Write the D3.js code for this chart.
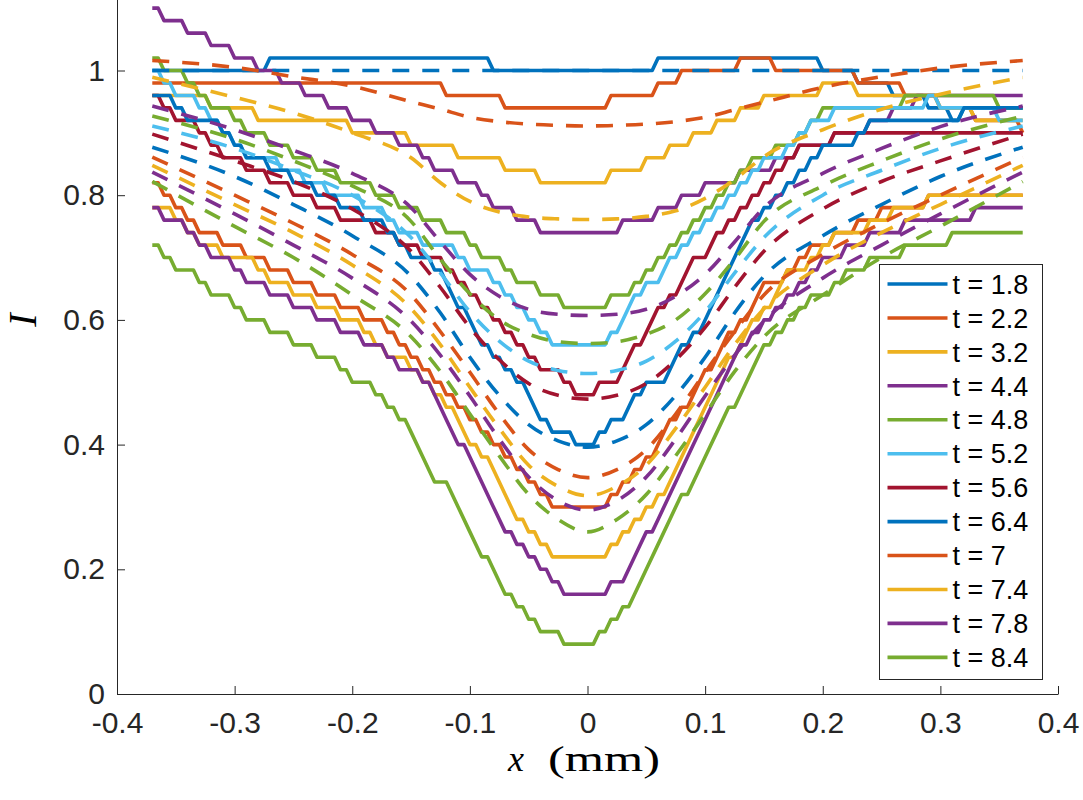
<!DOCTYPE html>
<html>
<head>
<meta charset="utf-8">
<script src="https://cdn.jsdelivr.net/npm/d3@7"></script>
<style>
  html, body { margin: 0; padding: 0; background: #fff; }
  svg { display: block; }
</style>
</head>
<body>
<svg id="chart" width="1083" height="800"></svg>
<script>
// measured profiles: x sample positions (mm)
const xMeasured = [
  -0.37, -0.36, -0.35, -0.34, -0.33, -0.32, -0.31, -0.30, -0.29, -0.28,
  -0.27, -0.26, -0.25, -0.24, -0.23, -0.22, -0.21, -0.20, -0.19, -0.18,
  -0.17, -0.16, -0.15, -0.14, -0.13, -0.12, -0.11, -0.10, -0.09, -0.08,
  -0.07, -0.06, -0.05, -0.04, -0.03, -0.02, -0.01, 0.00, 0.01, 0.02,
  0.03, 0.04, 0.05, 0.06, 0.07, 0.08, 0.09, 0.10, 0.11, 0.12,
  0.13, 0.14, 0.15, 0.16, 0.17, 0.18, 0.19, 0.20, 0.21, 0.22,
  0.23, 0.24, 0.25, 0.26, 0.27, 0.28, 0.29, 0.30, 0.31, 0.32,
  0.33, 0.34, 0.35, 0.36, 0.37
];

// measured intensity, one array per time (values come in steps of 0.02)
const meas18 = [
  1.00, 1.00, 1.00, 1.00, 1.00, 1.00, 1.00, 1.00, 1.00, 1.00,
  1.02, 1.02, 1.02, 1.02, 1.02, 1.02, 1.02, 1.02, 1.02, 1.02,
  1.02, 1.02, 1.02, 1.02, 1.02, 1.02, 1.02, 1.02, 1.02, 1.00,
  1.00, 1.00, 1.00, 1.00, 1.00, 1.00, 1.00, 1.00, 1.00, 1.00,
  1.00, 1.00, 1.00, 1.02, 1.02, 1.02, 1.02, 1.02, 1.02, 1.02,
  1.02, 1.02, 1.02, 1.02, 1.02, 1.02, 1.02, 1.00, 1.00, 1.00,
  0.98, 0.98, 0.98, 0.96, 0.96, 0.96, 0.94, 0.94, 0.92, 0.94,
  0.94, 0.94, 0.94, 0.94, 0.94
];
const meas22 = [
  0.98, 0.98, 0.98, 0.98, 0.98, 0.98, 0.98, 0.98, 0.98, 0.98,
  0.98, 0.98, 0.98, 0.98, 0.98, 0.98, 0.98, 0.98, 0.98, 0.98,
  0.98, 0.98, 0.98, 0.98, 0.98, 0.96, 0.96, 0.96, 0.96, 0.96,
  0.94, 0.94, 0.94, 0.94, 0.94, 0.94, 0.94, 0.94, 0.94, 0.96,
  0.96, 0.96, 0.96, 0.98, 0.98, 1.00, 1.00, 1.00, 1.00, 1.00,
  1.02, 1.02, 1.02, 1.00, 1.00, 1.00, 1.00, 1.00, 1.00, 1.00,
  0.98, 0.98, 0.98, 0.98, 0.96, 0.96, 0.96, 0.94, 0.94, 0.94,
  0.92, 0.92, 0.92, 0.92, 0.90
];
const meas32 = [
  0.96, 0.96, 0.96, 0.96, 0.96, 0.94, 0.94, 0.94, 0.94, 0.92,
  0.92, 0.92, 0.92, 0.92, 0.92, 0.92, 0.92, 0.90, 0.90, 0.90,
  0.90, 0.90, 0.88, 0.88, 0.88, 0.88, 0.86, 0.86, 0.86, 0.86,
  0.84, 0.84, 0.84, 0.82, 0.82, 0.82, 0.82, 0.82, 0.82, 0.84,
  0.84, 0.84, 0.86, 0.86, 0.88, 0.88, 0.90, 0.90, 0.92, 0.92,
  0.94, 0.94, 0.96, 0.96, 0.96, 0.96, 0.96, 0.98, 0.98, 0.98,
  0.96, 0.96, 0.96, 0.96, 0.96, 0.96, 0.96, 0.94, 0.94, 0.94,
  0.92, 0.92, 0.92, 0.92, 0.92
];
const meas44 = [
  1.10, 1.08, 1.08, 1.06, 1.06, 1.04, 1.04, 1.02, 1.02, 1.00,
  1.00, 0.98, 0.98, 0.96, 0.96, 0.94, 0.94, 0.92, 0.92, 0.90,
  0.90, 0.88, 0.88, 0.86, 0.84, 0.84, 0.82, 0.82, 0.80, 0.78,
  0.78, 0.76, 0.76, 0.74, 0.74, 0.74, 0.74, 0.74, 0.74, 0.74,
  0.76, 0.76, 0.76, 0.78, 0.78, 0.80, 0.80, 0.82, 0.82, 0.82,
  0.84, 0.84, 0.84, 0.86, 0.86, 0.88, 0.88, 0.88, 0.90, 0.90,
  0.90, 0.92, 0.92, 0.94, 0.94, 0.96, 0.96, 0.96, 0.96, 0.96,
  0.96, 0.96, 0.96, 0.96, 0.96
];
const meas48 = [
  1.02, 1.00, 1.00, 0.98, 0.96, 0.94, 0.94, 0.92, 0.90, 0.90,
  0.88, 0.88, 0.86, 0.86, 0.84, 0.84, 0.82, 0.82, 0.82, 0.80,
  0.80, 0.78, 0.78, 0.76, 0.76, 0.74, 0.74, 0.72, 0.70, 0.70,
  0.68, 0.66, 0.66, 0.64, 0.64, 0.62, 0.62, 0.62, 0.62, 0.64,
  0.64, 0.66, 0.68, 0.70, 0.72, 0.74, 0.76, 0.78, 0.80, 0.82,
  0.84, 0.86, 0.86, 0.88, 0.88, 0.90, 0.92, 0.94, 0.94, 0.94,
  0.94, 0.94, 0.94, 0.94, 0.96, 0.96, 0.96, 0.96, 0.96, 0.96,
  0.96, 0.96, 0.94, 0.94, 0.94
];
const meas52 = [
  1.00, 0.98, 0.96, 0.96, 0.94, 0.92, 0.90, 0.88, 0.86, 0.86,
  0.86, 0.84, 0.84, 0.82, 0.82, 0.80, 0.80, 0.80, 0.78, 0.78,
  0.76, 0.74, 0.74, 0.72, 0.72, 0.72, 0.70, 0.68, 0.68, 0.66,
  0.64, 0.62, 0.60, 0.58, 0.56, 0.56, 0.56, 0.56, 0.56, 0.58,
  0.60, 0.64, 0.66, 0.66, 0.70, 0.72, 0.74, 0.76, 0.78, 0.80,
  0.82, 0.84, 0.86, 0.86, 0.88, 0.90, 0.92, 0.92, 0.94, 0.94,
  0.94, 0.94, 0.94, 0.94, 0.94, 0.94, 0.96, 0.94, 0.94, 0.94,
  0.94, 0.94, 0.92, 0.92, 0.92
];
const meas56 = [
  0.96, 0.94, 0.92, 0.92, 0.90, 0.88, 0.86, 0.86, 0.84, 0.84,
  0.82, 0.82, 0.80, 0.80, 0.78, 0.78, 0.76, 0.76, 0.76, 0.74,
  0.74, 0.72, 0.72, 0.70, 0.70, 0.68, 0.66, 0.64, 0.62, 0.60,
  0.58, 0.56, 0.54, 0.52, 0.52, 0.50, 0.48, 0.48, 0.50, 0.50,
  0.52, 0.56, 0.58, 0.62, 0.64, 0.66, 0.70, 0.70, 0.74, 0.76,
  0.78, 0.80, 0.82, 0.84, 0.86, 0.88, 0.88, 0.88, 0.90, 0.90,
  0.90, 0.90, 0.90, 0.90, 0.90, 0.90, 0.90, 0.90, 0.90, 0.90,
  0.90, 0.90, 0.90, 0.90, 0.90
];
const meas64 = [
  0.96, 0.96, 0.94, 0.92, 0.92, 0.92, 0.90, 0.88, 0.86, 0.86,
  0.84, 0.84, 0.82, 0.82, 0.80, 0.80, 0.78, 0.78, 0.76, 0.76,
  0.74, 0.72, 0.70, 0.70, 0.68, 0.66, 0.62, 0.60, 0.56, 0.54,
  0.52, 0.50, 0.48, 0.44, 0.42, 0.42, 0.40, 0.40, 0.42, 0.44,
  0.44, 0.48, 0.50, 0.50, 0.52, 0.56, 0.58, 0.60, 0.64, 0.68,
  0.72, 0.76, 0.78, 0.80, 0.82, 0.84, 0.86, 0.88, 0.88, 0.88,
  0.90, 0.92, 0.92, 0.92, 0.92, 0.92, 0.92, 0.92, 0.92, 0.94,
  0.94, 0.94, 0.94, 0.94, 0.94
];
const meas70 = [
  0.82, 0.80, 0.78, 0.76, 0.74, 0.74, 0.72, 0.72, 0.70, 0.70,
  0.68, 0.68, 0.66, 0.66, 0.64, 0.64, 0.62, 0.62, 0.60, 0.60,
  0.58, 0.56, 0.54, 0.52, 0.50, 0.48, 0.46, 0.44, 0.42, 0.40,
  0.38, 0.36, 0.34, 0.32, 0.30, 0.30, 0.30, 0.30, 0.30, 0.32,
  0.34, 0.36, 0.38, 0.40, 0.44, 0.46, 0.48, 0.52, 0.54, 0.58,
  0.60, 0.62, 0.66, 0.66, 0.68, 0.70, 0.72, 0.72, 0.74, 0.74,
  0.76, 0.76, 0.78, 0.78, 0.78, 0.78, 0.80, 0.80, 0.80, 0.80,
  0.80, 0.80, 0.80, 0.80, 0.80
];
const meas74 = [
  0.78, 0.78, 0.76, 0.74, 0.72, 0.72, 0.70, 0.70, 0.70, 0.68,
  0.66, 0.66, 0.64, 0.64, 0.62, 0.62, 0.60, 0.60, 0.58, 0.56,
  0.54, 0.54, 0.52, 0.50, 0.48, 0.46, 0.44, 0.40, 0.38, 0.36,
  0.32, 0.28, 0.26, 0.24, 0.22, 0.22, 0.22, 0.22, 0.22, 0.24,
  0.26, 0.28, 0.30, 0.32, 0.34, 0.38, 0.42, 0.46, 0.50, 0.54,
  0.56, 0.60, 0.62, 0.64, 0.68, 0.68, 0.70, 0.72, 0.74, 0.74,
  0.74, 0.76, 0.76, 0.78, 0.78, 0.78, 0.80, 0.80, 0.80, 0.80,
  0.80, 0.80, 0.80, 0.80, 0.80
];
const meas78 = [
  0.78, 0.76, 0.76, 0.74, 0.72, 0.70, 0.70, 0.68, 0.66, 0.66,
  0.64, 0.64, 0.62, 0.62, 0.60, 0.60, 0.58, 0.58, 0.56, 0.56,
  0.54, 0.52, 0.52, 0.50, 0.48, 0.44, 0.40, 0.38, 0.34, 0.30,
  0.26, 0.24, 0.22, 0.20, 0.18, 0.16, 0.16, 0.16, 0.16, 0.18,
  0.18, 0.22, 0.26, 0.28, 0.32, 0.36, 0.40, 0.44, 0.48, 0.52,
  0.56, 0.58, 0.60, 0.62, 0.64, 0.66, 0.68, 0.70, 0.70, 0.72,
  0.72, 0.74, 0.74, 0.74, 0.76, 0.76, 0.76, 0.76, 0.76, 0.76,
  0.78, 0.78, 0.78, 0.78, 0.78
];
const meas84 = [
  0.72, 0.70, 0.68, 0.68, 0.66, 0.64, 0.64, 0.62, 0.60, 0.60,
  0.58, 0.58, 0.56, 0.56, 0.54, 0.54, 0.52, 0.50, 0.50, 0.48,
  0.46, 0.44, 0.42, 0.38, 0.34, 0.34, 0.30, 0.26, 0.22, 0.20,
  0.16, 0.14, 0.12, 0.10, 0.10, 0.08, 0.08, 0.08, 0.10, 0.12,
  0.14, 0.16, 0.20, 0.24, 0.28, 0.32, 0.34, 0.38, 0.42, 0.46,
  0.48, 0.52, 0.56, 0.58, 0.60, 0.62, 0.64, 0.64, 0.66, 0.68,
  0.68, 0.70, 0.70, 0.70, 0.72, 0.72, 0.72, 0.72, 0.74, 0.74,
  0.74, 0.74, 0.74, 0.74, 0.74
];

// model curves (dashed): x positions (mm) and intensity
const xModel = [-0.37, -0.30, -0.25, -0.20, -0.15, -0.125, -0.10, -0.075, -0.05, -0.025, 0,
                0.025, 0.05, 0.075, 0.10, 0.125, 0.15, 0.20, 0.25, 0.30, 0.37];
const model18 = [1.000, 1.000, 1.000, 1.000, 1.000, 1.000, 1.000, 1.000, 1.000, 1.000, 1.000,
                 1.000, 1.000, 1.000, 1.000, 1.000, 1.000, 1.000, 1.000, 1.000, 1.000];
const model22 = [1.016, 1.005, 0.990, 0.975, 0.950, 0.938, 0.925, 0.918, 0.914, 0.912, 0.911,
                 0.912, 0.914, 0.918, 0.925, 0.937, 0.949, 0.973, 0.990, 1.004, 1.016];
const model32 = [0.989, 0.957, 0.932, 0.900, 0.860, 0.820, 0.790, 0.773, 0.765, 0.762, 0.761,
                 0.762, 0.766, 0.775, 0.795, 0.825, 0.862, 0.905, 0.938, 0.962, 0.989];
const model44 = [0.943, 0.905, 0.872, 0.835, 0.780, 0.725, 0.673, 0.638, 0.617, 0.609, 0.607,
                 0.609, 0.617, 0.638, 0.673, 0.725, 0.780, 0.835, 0.875, 0.910, 0.943];
const model48 = [0.927, 0.890, 0.855, 0.815, 0.758, 0.697, 0.642, 0.600, 0.577, 0.565, 0.562,
                 0.565, 0.577, 0.600, 0.642, 0.697, 0.758, 0.815, 0.855, 0.890, 0.927];
const model52 = [0.911, 0.875, 0.840, 0.800, 0.732, 0.675, 0.613, 0.566, 0.534, 0.519, 0.514,
                 0.519, 0.534, 0.566, 0.613, 0.675, 0.732, 0.800, 0.840, 0.875, 0.911];
const model56 = [0.898, 0.855, 0.822, 0.778, 0.710, 0.652, 0.588, 0.536, 0.498, 0.479, 0.473,
                 0.479, 0.498, 0.536, 0.588, 0.652, 0.710, 0.778, 0.822, 0.855, 0.898];
const model64 = [0.877, 0.830, 0.785, 0.735, 0.670, 0.611, 0.540, 0.479, 0.432, 0.406, 0.396,
                 0.406, 0.432, 0.479, 0.540, 0.611, 0.670, 0.735, 0.785, 0.830, 0.877];
const model70 = [0.861, 0.800, 0.755, 0.705, 0.640, 0.581, 0.516, 0.449, 0.392, 0.360, 0.347,
                 0.360, 0.392, 0.449, 0.516, 0.581, 0.640, 0.705, 0.755, 0.800, 0.861];
const model74 = [0.848, 0.785, 0.740, 0.688, 0.618, 0.560, 0.492, 0.426, 0.367, 0.333, 0.318,
                 0.333, 0.367, 0.426, 0.492, 0.560, 0.618, 0.688, 0.740, 0.785, 0.848];
const model78 = [0.837, 0.770, 0.720, 0.667, 0.598, 0.543, 0.478, 0.409, 0.348, 0.310, 0.295,
                 0.310, 0.348, 0.409, 0.478, 0.543, 0.598, 0.667, 0.720, 0.770, 0.837];
const model84 = [0.822, 0.750, 0.700, 0.640, 0.573, 0.517, 0.449, 0.382, 0.320, 0.280, 0.260,
                 0.280, 0.320, 0.382, 0.449, 0.517, 0.573, 0.640, 0.700, 0.750, 0.822];

const times = ["1.8", "2.2", "3.2", "4.4", "4.8", "5.2", "5.6", "6.4", "7", "7.4", "7.8", "8.4"];
const measured = [meas18, meas22, meas32, meas44, meas48, meas52, meas56, meas64, meas70, meas74, meas78, meas84];
const model = [model18, model22, model32, model44, model48, model52, model56, model64, model70, model74, model78, model84];

const xTicks = [-0.4, -0.3, -0.2, -0.1, 0, 0.1, 0.2, 0.3, 0.4];
const xTickLabels = ["-0.4", "-0.3", "-0.2", "-0.1", "0", "0.1", "0.2", "0.3", "0.4"];
const yTicks = [0, 0.2, 0.4, 0.6, 0.8, 1];
const yTickLabels = ["0", "0.2", "0.4", "0.6", "0.8", "1"];

// MATLAB default colour order
const palette = ["#0072BD", "#D95319", "#EDB120", "#7E2F8E", "#77AC30", "#4DBEEE", "#A2142F"];
const axisColor = "#262626";
const sansFont = "'Liberation Sans', Arial, Helvetica, sans-serif";
const serifFont = "'Liberation Serif', 'DejaVu Serif', serif";

const svg = d3.select("#chart");
svg.append("rect").attr("width", 1083).attr("height", 800).attr("fill", "#fff");

const x = d3.scaleLinear().domain([-0.4, 0.4]).range([117, 1058]);
const y = d3.scaleLinear().domain([0, 1.2]).range([694, -54.2]);

// one intensity step of the camera data, in pixels
const stepPx = y(0) - y(0.02);

// quantised data: a one-step change is drawn as a short flat then a riser,
// bigger changes as a straight segment
function stairCurve(context) {
  return {
    areaStart() {}, areaEnd() {},
    lineStart() { this._first = true; },
    lineEnd() {},
    point(px, py) {
      if (this._first) {
        context.moveTo(px, py);
        this._first = false;
      } else {
        const dy = Math.abs(py - this._y);
        if (dy > 0.5 && dy < 1.5 * stepPx) context.lineTo((this._x + px) / 2, this._y);
        context.lineTo(px, py);
      }
      this._x = px;
      this._y = py;
    }
  };
}

const measLine = d3.line()
  .x((d, i) => x(xMeasured[i]))
  .y(d => y(d))
  .curve(stairCurve);

const modelLine = d3.line()
  .x((d, i) => x(xModel[i]))
  .y(d => y(d))
  .curve(d3.curveMonotoneX);

// axes
const xAxis = svg.append("g")
  .attr("transform", `translate(0,${y(0)})`)
  .call(d3.axisBottom(x).tickValues(xTicks).tickFormat((d, i) => xTickLabels[i])
    .tickSizeInner(-8).tickSizeOuter(0).tickPadding(18));

const yAxis = svg.append("g")
  .attr("transform", `translate(${x(-0.4)},0)`)
  .call(d3.axisLeft(y).tickValues(yTicks).tickFormat((d, i) => yTickLabels[i])
    .tickSizeInner(-8).tickSizeOuter(0).tickPadding(12));

[xAxis, yAxis].forEach(g => {
  g.select(".domain").attr("stroke", axisColor).attr("stroke-width", 1);
  g.selectAll(".tick line").attr("stroke", axisColor).attr("stroke-width", 1);
  g.selectAll(".tick text")
    .attr("fill", axisColor)
    .style("font-family", sansFont)
    .style("font-size", "30px");
});

// measured (solid) first, model (dashed) on top
const plot = svg.append("g");

plot.selectAll(".meas")
  .data(measured)
  .join("path")
  .attr("class", "meas")
  .attr("d", d => measLine(d))
  .attr("fill", "none")
  .attr("stroke", (d, i) => palette[i % palette.length])
  .attr("stroke-width", 3.6)
  .attr("stroke-linejoin", "round");

plot.selectAll(".model")
  .data(model)
  .join("path")
  .attr("class", "model")
  .attr("d", d => modelLine(d))
  .attr("fill", "none")
  .attr("stroke", (d, i) => palette[i % palette.length])
  .attr("stroke-width", 3.6)
  .attr("stroke-dasharray", "17,13");

// axis labels
const xLabel = svg.append("text")
  .attr("y", 771)
  .style("font-family", serifFont)
  .style("font-size", "36px")
  .attr("fill", "#000");
xLabel.append("tspan").attr("x", 508).style("font-style", "italic").text("x");
xLabel.append("tspan").attr("x", 548).attr("textLength", 112).attr("lengthAdjust", "spacingAndGlyphs").text("(mm)");

svg.append("text")
  .attr("transform", "translate(22,320) rotate(-90)")
  .attr("text-anchor", "middle")
  .attr("dominant-baseline", "central")
  .style("font-family", serifFont)
  .style("font-size", "40px")
  .style("font-style", "italic")
  .attr("fill", "#000")
  .text("I");

// legend
const legend = svg.append("g").attr("transform", "translate(879.5,264.5)");
legend.append("rect")
  .attr("width", 163)
  .attr("height", 415)
  .attr("fill", "#fff")
  .attr("stroke", axisColor)
  .attr("stroke-width", 1);

const entry = legend.selectAll(".entry")
  .data(times)
  .join("g")
  .attr("class", "entry")
  .attr("transform", (d, i) => `translate(0,${19.5 + i * 33.94})`);

entry.append("line")
  .attr("x1", 8).attr("x2", 68)
  .attr("stroke", (d, i) => palette[i % palette.length])
  .attr("stroke-width", 3.6);

entry.append("text")
  .attr("x", 73)
  .attr("dy", "0.36em")
  .attr("fill", "#000")
  .style("font-family", sansFont)
  .style("font-size", "27px")
  .text(d => `t = ${d}`);
</script>
</body>
</html>
